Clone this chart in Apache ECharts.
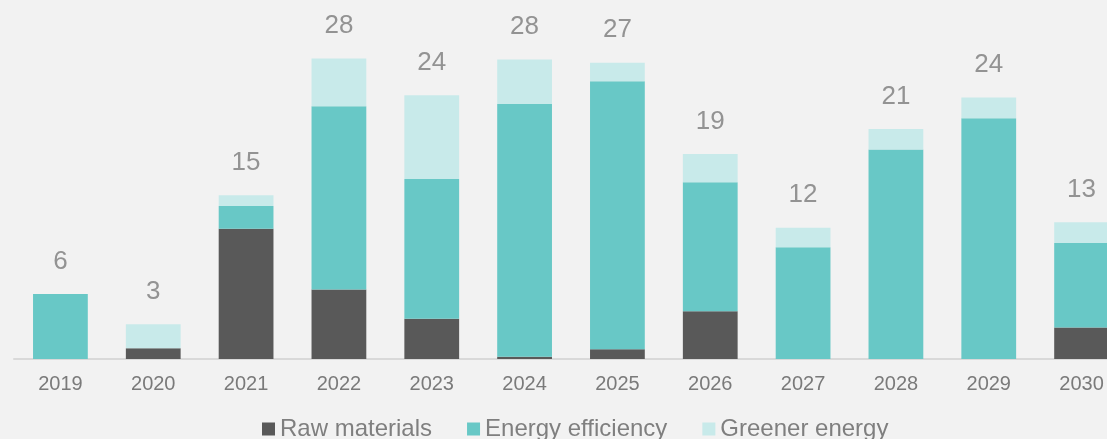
<!DOCTYPE html>
<html>
<head>
<meta charset="utf-8">
<script src="https://cdn.jsdelivr.net/npm/echarts@6/dist/echarts.min.js"></script>
<style>
  html, body { margin: 0; padding: 0; background: #f2f2f2; overflow: hidden; }
  /* the plot runs past the right edge of the window, so the last bar is cut off */
  #chart { width: 1128px; height: 439px; }
</style>
</head>
<body>
<div id="chart"></div>
<script>
// Yearly investment by category
const years = ['2019', '2020', '2021', '2022', '2023', '2024', '2025', '2026', '2027', '2028', '2029', '2030'];
const rawMaterials     = [0,   1.0, 12.0, 6.4,  3.7,  0.2,  0.9,  4.4,  0,    0,    0,    2.9];
const energyEfficiency = [6.0, 0,   2.1,  16.9, 12.9, 23.3, 24.7, 11.9, 10.3, 19.3, 22.2, 7.8];
const greenerEnergy    = [0,   2.2, 1.0,  4.4,  7.7,  4.1,  1.7,  2.6,  1.8,  1.9,  1.9,  1.9];

const totals = years.map((_, i) =>
  Math.round((rawMaterials[i] + energyEfficiency[i] + greenerEnergy[i]) * 10) / 10);

const FONT = '"Liberation Sans", Arial, sans-serif';
const chart = echarts.init(document.getElementById('chart'), null, { renderer: 'canvas' });

const barCommon = {
  type: 'bar',
  stack: 'total',
  barWidth: '59%',
  emphasis: { disabled: true }
};

chart.setOption({
  animation: false,
  backgroundColor: '#f2f2f2',
  textStyle: { fontFamily: FONT },
  grid: { left: 14, right: 0, top: 33.5, bottom: 80, containLabel: false },
  legend: {
    data: ['Raw materials', 'Energy efficiency', 'Greener energy'],
    left: 262,
    top: 417,
    padding: 0,
    itemWidth: 13,
    itemHeight: 13,
    itemGap: 35,
    icon: 'rect',
    textStyle: { fontFamily: FONT, fontSize: 24, color: '#7f7f7f' },
    selectedMode: false
  },
  xAxis: {
    type: 'category',
    data: years,
    axisLine: { lineStyle: { color: '#d9d9d9', width: 2 } },
    axisTick: { show: false },
    axisLabel: { color: '#7a7a7a', fontSize: 20, fontFamily: FONT, margin: 15 }
  },
  yAxis: {
    type: 'value',
    min: 0,
    max: 30,
    show: false,
    splitLine: { show: false }
  },
  series: [
    Object.assign({}, barCommon, {
      name: 'Raw materials',
      data: rawMaterials,
      itemStyle: { color: '#595959' }
    }),
    Object.assign({}, barCommon, {
      name: 'Energy efficiency',
      data: energyEfficiency,
      itemStyle: { color: '#68c8c6' }
    }),
    Object.assign({}, barCommon, {
      name: 'Greener energy',
      data: greenerEnergy,
      itemStyle: { color: '#c8eaea' }
    }),
    {
      // total labels above each stack
      name: 'Total',
      type: 'scatter',
      data: totals,
      symbolSize: 1,
      itemStyle: { color: 'rgba(0,0,0,0)' },
      emphasis: { disabled: true },
      label: {
        show: true,
        position: 'top',
        distance: 19,
        color: '#7a7a7a',
        fontSize: 26,
        fontFamily: FONT,
        formatter: p => String(Math.round(p.value))
      },
      z: 10
    }
  ]
});
</script>
</body>
</html>
